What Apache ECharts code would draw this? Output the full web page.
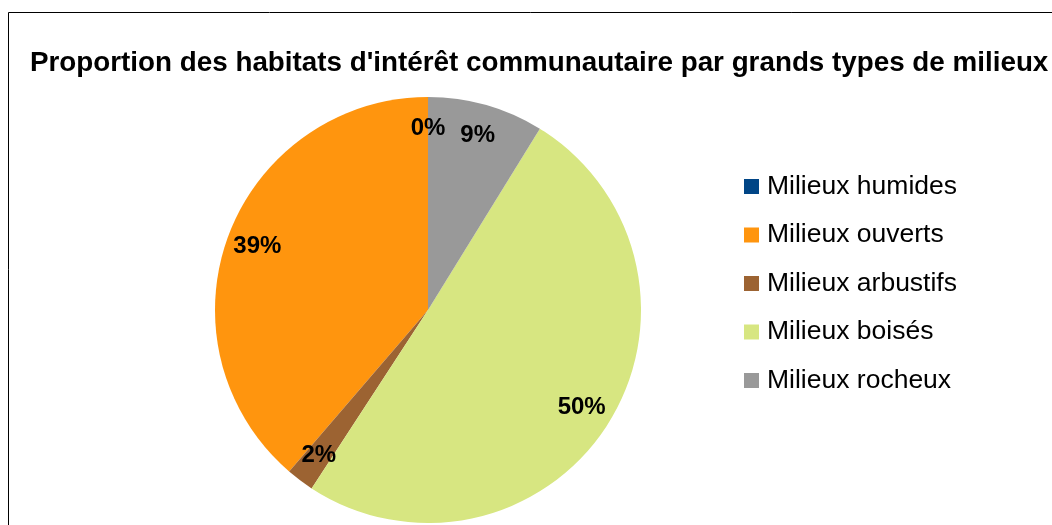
<!DOCTYPE html>
<html>
<head>
<meta charset="utf-8">
<script src="https://cdn.jsdelivr.net/npm/echarts@6/dist/echarts.min.js"></script>
<style>
  html, body { margin: 0; padding: 0; background: #fff; }
  #chart { width: 1052px; height: 525px; }
</style>
</head>
<body>
<div id="chart"></div>
<script>
// habitat types, share in %
const milieux = ['Milieux humides', 'Milieux ouverts', 'Milieux arbustifs', 'Milieux boisés', 'Milieux rocheux']
const parts = [0, 38.7, 2.1, 50.4, 8.8]
const couleurs = ['#004586', '#ff950e', '#9c6332', '#d7e681', '#999999']

const pieData = milieux.map((name, i) => ({
    name,
    value: parts[i],
    itemStyle: { color: couleurs[i] },
}))

const chart = echarts.init(document.getElementById('chart'))

chart.setOption({
    animation: false,
    textStyle: { fontFamily: 'Liberation Sans, Arial, sans-serif' },
    graphic: [
        {
            type: 'rect',
            shape: { x: 8.5, y: 12.5, width: 1100, height: 600 },
            style: { fill: 'none', stroke: '#000', lineWidth: 1 },
            silent: true,
        },
    ],
    title: {
        text: "Proportion des habitats d'intérêt communautaire par grands types de milieux",
        left: 30,
        top: 47,
        padding: 0,
        textStyle: { fontSize: 27.8, fontWeight: 'bold', color: '#000', lineHeight: 32 },
    },
    legend: {
        orient: 'vertical',
        left: 744,
        top: 173,
        padding: 0,
        itemWidth: 15,
        itemHeight: 15,
        itemGap: 21.5,
        icon: 'rect',
        textStyle: { fontSize: 26.5, color: '#000', lineHeight: 26, padding: [0, 0, 0, 3] },
        data: milieux.map((name, i) => ({ name, itemStyle: { color: couleurs[i] } })),
    },
    series: [
        {
            type: 'pie',
            center: [428, 310],
            radius: 213,
            startAngle: 90,
            clockwise: false,
            silent: true,
            label: { show: false },
            labelLine: { show: false },
            data: pieData,
        },
        {
            // transparent ring used only to place the labels near the rim
            type: 'pie',
            center: [428, 310],
            radius: [145, 213],
            startAngle: 90,
            clockwise: false,
            silent: true,
            itemStyle: { color: 'rgba(0,0,0,0)' },
            label: {
                show: true,
                position: 'inside',
                formatter: p => Math.round(p.value) + '%',
                fontSize: 24,
                fontWeight: 'bold',
                color: '#000',
            },
            labelLine: { show: false },
            data: milieux.map((name, i) => ({ name, value: parts[i] })),
        },
    ],
})
</script>
</body>
</html>
